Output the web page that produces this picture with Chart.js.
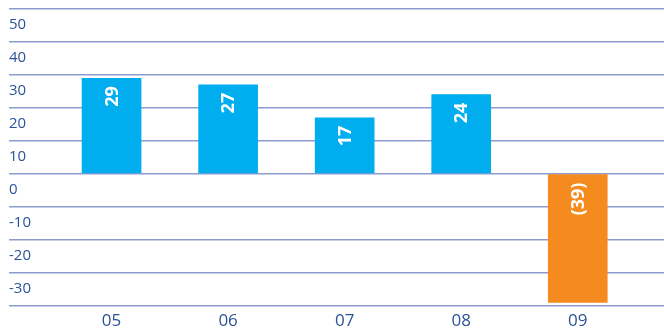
<!DOCTYPE html>
<html>
<head>
<meta charset="utf-8">
<script src="https://cdn.jsdelivr.net/npm/chart.js@4"></script>
<style>
  html, body { margin: 0; padding: 0; background: #fff; }
  #wrap { width: 664px; height: 331px; }
</style>
</head>
<body>
<div id="wrap"><canvas id="chart"></canvas></div>
<script>
const years = ["05", "06", "07", "08", "09"];
const values = [29, 27, 17, 24, -39];

const yMin = -40;
const yMax = 50;
const yStep = 10;

const BLUE = "#00aeef";
const ORANGE = "#f58a1f";
const NAVY = "#2a5396";
const GRID = "#8c9bd0";

function valueLabel(v){
  return v < 0 ? "(" + (-v) + ")" : String(v);
}

// white value text turned on its side, just inside the top end of each bar
const barText = {
  id: "barText",
  afterDatasetsDraw(chart){
    const ctx = chart.ctx;
    const meta = chart.getDatasetMeta(0);
    ctx.save();
    ctx.fillStyle = "#fff";
    ctx.font = "bold 18px 'Open Sans', sans-serif";
    ctx.textAlign = "right";
    ctx.textBaseline = "middle";
    meta.data.forEach((bar, i)=>{
      const top = Math.min(bar.y, bar.base);
      ctx.save();
      ctx.translate(bar.x + 1, top + 8);
      ctx.rotate(-Math.PI / 2);
      ctx.fillText(valueLabel(values[i]), 0, 0);
      ctx.restore();
    });
    ctx.restore();
  }
};

new Chart(document.getElementById("chart"), {
  type: "bar",
  data: {
    datasets: [{
      data: values.map((v, i)=>({ x: i, y: v })),
      backgroundColor: values.map(v=> v < 0 ? ORANGE : BLUE),
      barThickness: 59
    }]
  },
  options: {
    responsive: true,
    maintainAspectRatio: false,
    animation: false,
    layout: { padding: { left: 9, top: 0, right: 0, bottom: -5 } },
    plugins: {
      legend: { display: false },
      tooltip: { enabled: false }
    },
    scales: {
      x: {
        type: "linear",
        offset: false,
        min: -0.88,
        max: 4.74,
        afterBuildTicks: scale=>{
          scale.ticks = years.map((_, i)=>({ value: i }));
        },
        ticks: {
          callback: v=> years[v],
          color: NAVY,
          font: { family: "'Open Sans', sans-serif", size: 17 },
          padding: 5,
          maxRotation: 0
        },
        grid: { display: false, drawTicks: false },
        border: { display: false }
      },
      y: {
        min: yMin,
        max: yMax,
        ticks: {
          stepSize: yStep,
          mirror: true,
          padding: 0,
          labelOffset: 16,
          color: NAVY,
          font: { family: "'Open Sans', sans-serif", size: 15 },
          callback: v=> v === yMin ? "" : v
        },
        grid: { color: GRID, lineWidth: 1.5, drawTicks: false },
        border: { display: false }
      }
    }
  },
  plugins: [barText]
});
</script>
</body>
</html>
